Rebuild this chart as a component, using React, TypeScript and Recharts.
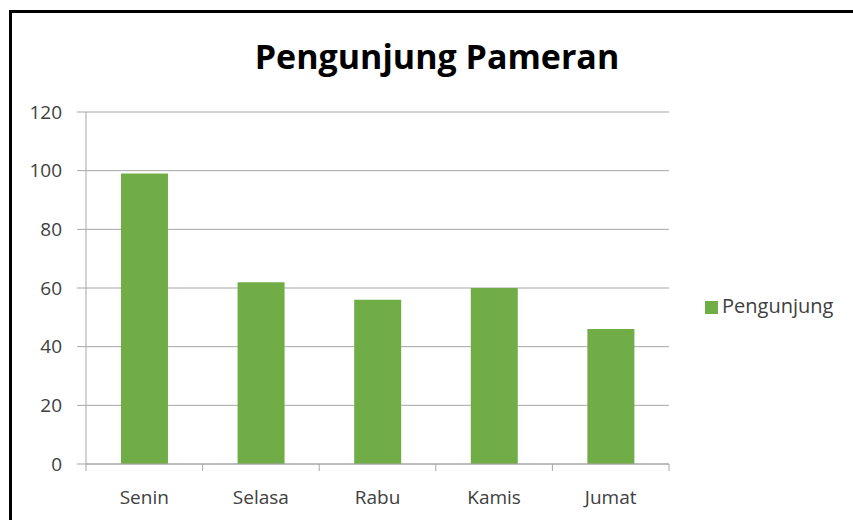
import React from 'react';
import { BarChart, Bar, XAxis, YAxis, CartesianGrid, Legend } from 'recharts';

const days = ['Senin', 'Selasa', 'Rabu', 'Kamis', 'Jumat'];
const visitors = [99, 62, 56, 60, 46];
const yTicks = [0, 20, 40, 60, 80, 100, 120];
const seriesName = 'Pengunjung';
const title = 'Pengunjung Pameran';

const data = days.map((d, i) => ({ day: d, Pengunjung: visitors[i] }));

const FONT = '"Open Sans", sans-serif';
const GRID = '#a6a6a6';
const TEXT = '#404040';

function CategoryTick(props: any) {
  const { x, y, payload, index, visibleTicksCount } = props;
  const half = payload && payload.offset ? payload.offset : 0;
  const axisY = y - 27;
  const last = index === (visibleTicksCount ?? days.length) - 1;
  return (
    <g>
      <line x1={x - half} x2={x - half} y1={axisY} y2={axisY + 7} stroke={GRID} />
      {last ? <line x1={x + half} x2={x + half} y1={axisY} y2={axisY + 7} stroke={GRID} /> : null}
      <text x={x} y={y} dy="0.71em" textAnchor="middle" fill={TEXT} fontSize={19} fontFamily={FONT}>
        {payload.value}
      </text>
    </g>
  );
}

export default function App() {
  return (
    <div style={{ position: 'absolute', left: 0, top: 0, width: 853, height: 520, overflow: 'hidden', background: '#fff', fontFamily: FONT }}>
      <div style={{ position: 'absolute', left: 9, top: 10, width: 870, height: 540, border: '3px solid #000', boxSizing: 'border-box' }} />
      <div style={{ position: 'absolute', left: 0, top: 36, width: 874, textAlign: 'center', fontSize: 34, fontWeight: 700, color: '#000', lineHeight: '40px' }}>
        {title}
      </div>
      <div style={{ position: 'absolute', left: 0, top: 0 }}>
        <BarChart width={853} height={520} data={data} margin={{ top: 112, right: 184, bottom: 0, left: 20 }} barCategoryGap="30%">
          <CartesianGrid vertical={false} stroke={GRID} />
          <XAxis
            dataKey="day"
            height={56}
            axisLine={{ stroke: GRID }}
            tickLine={false}
            tickSize={0}
            tickMargin={27}
            interval={0}
            tick={<CategoryTick />}
          />
          <YAxis
            domain={[0, 120]}
            ticks={yTicks}
            width={66}
            axisLine={{ stroke: GRID }}
            tickLine={{ stroke: GRID }}
            tickSize={9}
            tickMargin={15}
            tick={{ fill: TEXT, fontSize: 19, fontFamily: FONT }}
          />
          <Legend
            layout="horizontal"
            align="center"
            verticalAlign="middle"
            iconType="square"
            iconSize={13}
            wrapperStyle={{ left: 705, top: 292, width: 'auto', fontFamily: FONT, fontSize: 20 }}
            formatter={(v) => <span style={{ color: TEXT }}>{v}</span>}
          />
          <Bar dataKey="Pengunjung" name={seriesName} fill="#70AD47" isAnimationActive={false} />
        </BarChart>
      </div>
    </div>
  );
}
